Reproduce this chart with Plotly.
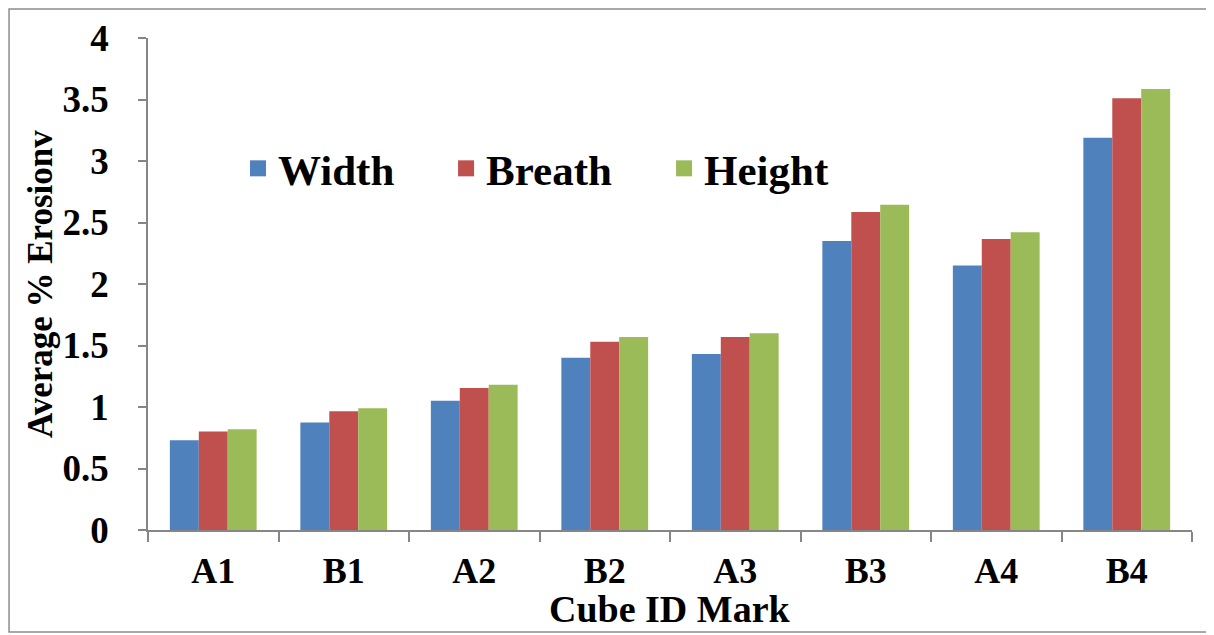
import plotly.graph_objects as go

categories = ["A1", "B1", "A2", "B2", "A3", "B3", "A4", "B4"]
width_vals = [0.73, 0.875, 1.05, 1.40, 1.43, 2.35, 2.15, 3.19]
breath_vals = [0.80, 0.965, 1.155, 1.53, 1.57, 2.585, 2.365, 3.51]
height_vals = [0.82, 0.99, 1.18, 1.57, 1.60, 2.645, 2.42, 3.585]
series_names = ["Width", "Breath", "Height"]
series_values = [width_vals, breath_vals, height_vals]
series_colors = ["#4F81BD", "#C0504D", "#9BBB59"]
y_ticks = [0, 0.5, 1, 1.5, 2, 2.5, 3, 3.5, 4]
y_tick_text = ["0", "0.5", "1", "1.5", "2", "2.5", "3", "3.5", "4"]

FONT = "Liberation Serif, Times New Roman, serif"
legend_keys = ["legend", "legend2", "legend3"]
legend_x = [0.0862, 0.2855, 0.4943]

fig = go.Figure()
for name, vals, color in zip(series_names, series_values, series_colors):
    fig.add_trace(go.Bar(x=categories, y=vals, name=name, marker_color=color,
                         marker_line_width=0, showlegend=False))
# legend entries (no data), one legend per series for exact placement
for name, color, lk in zip(series_names, series_colors, legend_keys):
    fig.add_trace(go.Scatter(x=[None], y=[None], mode="markers", name=name,
                             marker=dict(symbol="square", size=16, color=color),
                             legend=lk, showlegend=True, hoverinfo="skip"))

axis_gray = "#868686"
legend_font = dict(family=FONT, size=43, color="black", weight="bold")
legend_common = dict(orientation="h", y=0.735, xanchor="left", yanchor="middle",
                     font=legend_font, bgcolor="rgba(0,0,0,0)", borderwidth=0)
fig.update_layout(
    width=1214, height=635,
    margin=dict(l=140, r=30, t=30, b=113, autoexpand=False),
    paper_bgcolor="white", plot_bgcolor="white",
    barmode="group", bargap=0.335, bargroupgap=0,
    font=dict(family=FONT, color="black", weight="bold"),
    showlegend=True,
    legend=dict(x=legend_x[0], **legend_common),
    legend2=dict(x=legend_x[1], **legend_common),
    legend3=dict(x=legend_x[2], **legend_common),
    xaxis=dict(showline=True, linecolor=axis_gray, linewidth=1.5,
               ticks="outside", ticklen=10, tickcolor=axis_gray, tickwidth=1.5,
               tickson="boundaries", showgrid=False, automargin=False,
               ticklabelstandoff=8,
               tickfont=dict(family=FONT, size=36, weight="bold")),
    yaxis=dict(range=[0, 4], tickvals=y_ticks, ticktext=y_tick_text,
               showline=True, linecolor=axis_gray, linewidth=1.5,
               ticks="outside", ticklen=8, tickcolor=axis_gray, tickwidth=1.5,
               showgrid=False, zeroline=False, automargin=False,
               ticklabelstandoff=22,
               tickfont=dict(family=FONT, size=37, weight="bold")),
    annotations=[
        dict(text="Cube ID Mark", xref="paper", yref="paper", x=0.5, y=-0.1606,
             xanchor="center", yanchor="middle", showarrow=False,
             font=dict(family=FONT, size=38, color="black", weight="bold")),
        dict(text="Average % Erosionv", xref="paper", yref="paper", x=-0.1034, y=0.5,
             xanchor="center", yanchor="middle", textangle=-90, showarrow=False,
             font=dict(family=FONT, size=35, color="black", weight="bold")),
    ],
    shapes=[dict(type="rect", xref="paper", yref="paper",
                 x0=-0.1331, x1=1.0172, y0=-0.2073, y1=1.0589,
                 line=dict(color="#8C8C8C", width=1.5), layer="below")],
)

fig.write_html("out.html")
